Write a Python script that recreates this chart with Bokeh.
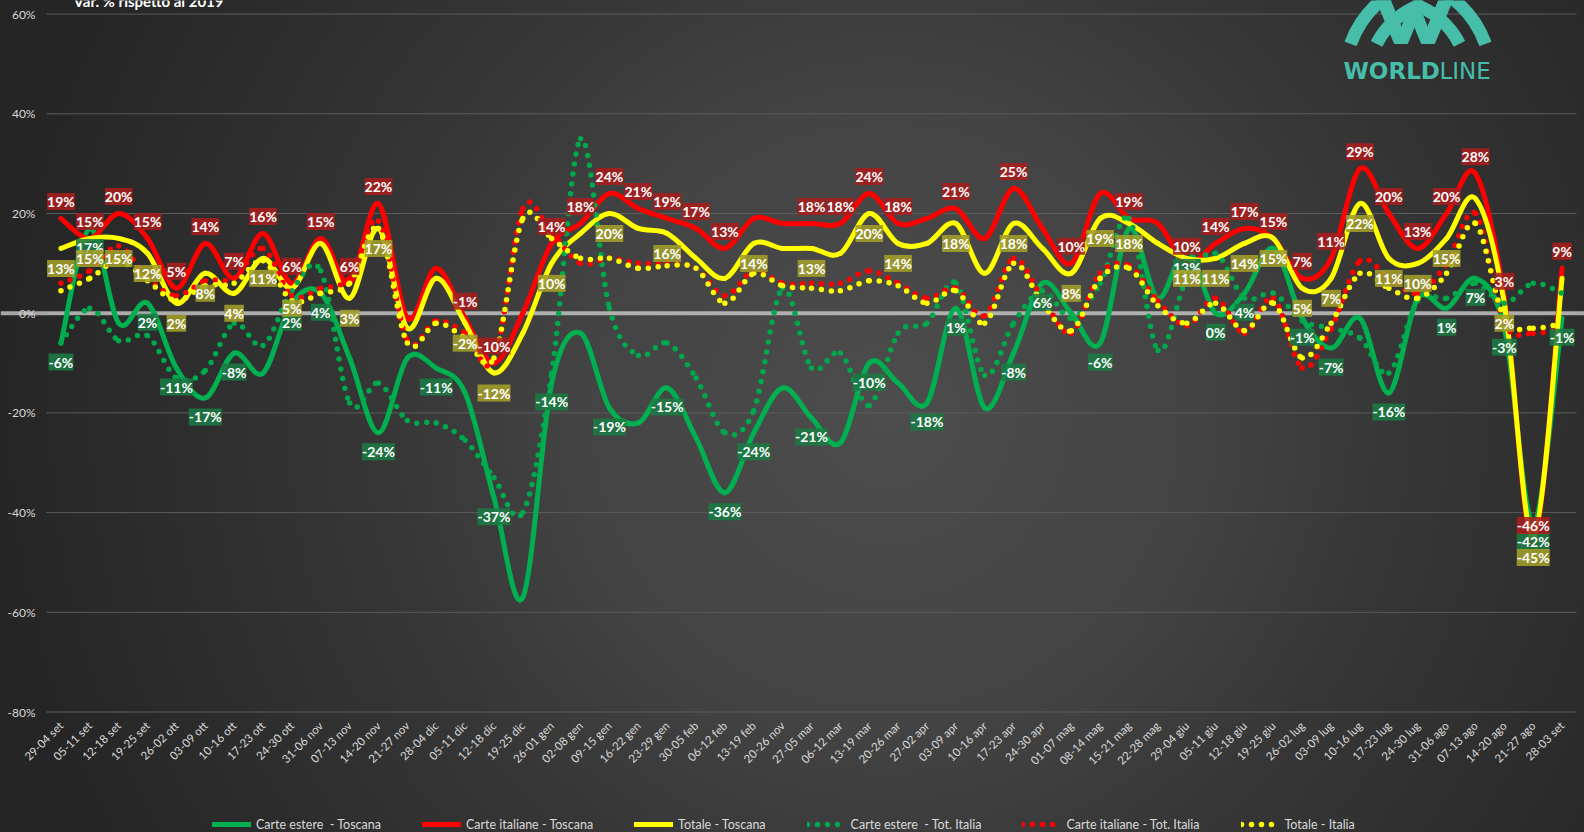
import math
from bokeh.plotting import figure
from bokeh.models import (Range1d, FixedTicker, ColumnDataSource, LabelSet, Label,
                          Span, Legend, LegendItem)
from bokeh.core.properties import value
from bokeh.embed import file_html
from bokeh.resources import INLINE

# ---------------- data ----------------
weeks = ["29-04 set", "05-11 set", "12-18 set", "19-25 set", "26-02 ott", "03-09 ott",
         "10-16 ott", "17-23 ott", "24-30 ott", "31-06 nov", "07-13 nov", "14-20 nov",
         "21-27 nov", "28-04 dic", "05-11 dic", "12-18 dic", "19-25 dic", "26-01 gen",
         "02-08 gen", "09-15 gen", "16-22 gen", "23-29 gen", "30-05 feb", "06-12 feb",
         "13-19 feb", "20-26 nov", "27-05 mar", "06-12 mar", "13-19 mar", "20-26 mar",
         "27-02 apr", "03-09 apr", "10-16 apr", "17-23 apr", "24-30 apr", "01-07 mag",
         "08-14 mag", "15-21 mag", "22-28 mag", "29-04 giu", "05-11 giu", "12-18 giu",
         "19-25 giu", "26-02 lug", "03-09 lug", "10-16 lug", "17-23 lug", "24-30 lug",
         "31-06 ago", "07-13 ago", "14-20 ago", "21-27 ago", "28-03 set"]

estere_toscana = [-6, 17, -2, 2, -11, -17, -8, -12, 2, 4, -9, -24, -9, -11, -16, -37, -57, -14,
                  -4, -19, -22, -15, -25, -36, -24, -15, -21, -26, -10, -14, -18, 1, -19, -8,
                  6, 0, -6, 17, 3, 13, 0, 4, 13, -1, -7, -1, -16, 3, 1, 7, -3, -42, -1]
italiane_toscana = [19, 15, 20, 15, 5, 14, 7, 16, 6, 15, 6, 22, -1, 9, -1, -10, 0, 14, 18, 24,
                    21, 19, 17, 13, 19, 18, 18, 18, 24, 18, 19, 21, 15, 25, 17, 10, 24, 19, 18,
                    10, 14, 17, 15, 7, 11, 29, 20, 13, 20, 28, 3, -46, 9]
totale_toscana = [13, 15, 15, 12, 2, 8, 4, 11, 5, 14, 3, 17, -3, 7, -2, -12, -4, 10, 16, 20,
                  17, 16, 11, 7, 14, 13, 13, 12, 20, 14, 14, 18, 8, 18, 13, 8, 19, 18, 14, 11,
                  11, 14, 15, 5, 7, 22, 11, 10, 15, 23, 2, -45, 7]
estere_italia = [-6, 1, -5.5, -4.5, -13, -11.5, -2, -6.5, 4.5, 8.5, -18, -14, -21.5, -22,
                 -25.5, -33, -40, -12, 35, 1, -8.5, -6, -13, -24, -19.5, 5, -11, -8, -18.5,
                 -4, -2, 6, -12.5, -2, 4.5, -1, 6, 19, -7.5, 7, 12, 3, 4, -1.5, -3, -5, -12,
                 2.5, 3, 6, 2, 6, 4]
italiane_italia = [6, 8.5, 13.5, 7, 3.5, 6.5, 7, 13, 3.5, 5, 7, 18.5, -5.5, -1.5, -4, -9.5,
                   21, 16, 10, 11, 10, 10, 9, 3.5, 8.5, 6, 6, 6, 8.5, 6, 3, 5, -0.5, 11, 3,
                   -4, 8, 9.5, 2.5, -2.5, 3, -4, 3, -11, -3, 10.5, 7, 4, 10, 20, -2, -4, -3]
totale_italia = [4.5, 7, 10.5, 6.5, 2.5, 5.5, 6, 10.5, 2.5, 4, 6, 17, -6, -2, -5, -9, 19, 15,
                 11, 11, 9, 9.5, 9, 2, 8, 5.5, 5, 4.5, 6.5, 5.5, 2, 4.5, -2, 10, 2, -3.5, 7,
                 9, 1.5, -2, 2, -3.5, 2, -9, -2, 8, 5, 3, 8, 18, -1, -3, -2]

# indices of the points that carry a data label
lbl_italiane_toscana = [0, 1, 2, 3, 4, 5, 6, 7, 8, 9, 10, 11, 14, 15, 17, 18, 19, 20, 21, 22,
                        23, 26, 27, 28, 29, 31, 33, 35, 37, 39, 40, 41, 42, 43, 44, 45, 46, 47,
                        48, 49, 50, 51, 52]
lbl_totale_toscana = [0, 1, 2, 3, 4, 5, 6, 7, 8, 10, 11, 14, 15, 17, 19, 21, 24, 26, 28, 29,
                      31, 33, 35, 36, 37, 39, 40, 41, 42, 43, 44, 45, 46, 47, 48, 50, 51]
lbl_estere_toscana = [0, 1, 3, 4, 5, 6, 8, 9, 11, 13, 15, 17, 19, 21, 23, 24, 26, 28, 30, 31,
                      33, 34, 36, 39, 40, 41, 43, 44, 46, 48, 49, 50, 51, 52]

y_ticks = [-80, -60, -40, -20, 0, 20, 40, 60]

# ---------------- figure (frame covers the whole canvas) ----------------
W, H = 1584, 832
N = len(weeks)
PLOT_L, PLOT_R = 46, 1576           # pixel extent of the category area
CW = (PLOT_R - PLOT_L) / N          # pixels per category
PX_PER_UNIT = 4.985                 # vertical pixels per percentage point
X0 = -0.5 - PLOT_L / CW
X1 = N - 0.5 + (W - PLOT_R) / CW
Y1 = 62.73
Y0 = Y1 - H / PX_PER_UNIT
AXIS_AT = -80.9                     # where the category axis sits

p = figure(width=W, height=H, output_backend="svg", toolbar_location=None,
           x_range=Range1d(X0, X1), y_range=Range1d(Y0, Y1),
           min_border_left=0, min_border_right=0, min_border_top=0,
           min_border_bottom=0)
p.background_fill_color = None
p.border_fill_color = None
p.outline_line_color = None
p.styles = {"background": "radial-gradient(circle 900px at 56% 50%, #4d4d4d 0%, "
                          "#434343 35%, #373737 55%, #2e2e2e 77%, #252525 100%)"}

FONT = "Lato"
p.yaxis.ticker = FixedTicker(ticks=y_ticks)
p.yaxis.major_label_overrides = {t: f"{t}%" for t in y_ticks}
p.yaxis.fixed_location = -0.5
p.xaxis.ticker = FixedTicker(ticks=list(range(N)))
p.xaxis.major_label_overrides = {i: w for i, w in enumerate(weeks)}
p.xaxis.major_label_orientation = math.pi / 4
p.xaxis.fixed_location = AXIS_AT
for ax in (p.xaxis, p.yaxis):
    ax.axis_line_color = None
    ax.major_tick_line_color = None
    ax.minor_tick_line_color = None
    ax.major_tick_out = 0
    ax.major_tick_in = 0
    ax.major_label_text_color = "#D9D9D9"
    ax.major_label_text_font = FONT
p.yaxis.major_label_text_font_size = "12px"
p.yaxis.major_label_standoff = 11
p.xaxis.major_label_text_font_size = "11.5px"
p.xaxis.major_label_standoff = 7
p.xgrid.visible = False
p.ygrid.visible = False

# horizontal gridlines limited to the category area
grid = p.segment(x0=[-0.5] * len(y_ticks), x1=[N - 0.5] * len(y_ticks),
                 y0=y_ticks, y1=y_ticks, line_color="#5c5c5c", line_width=1)
grid.level = "underlay"

p.add_layout(Span(location=0, dimension="width", line_color="#D0D0D0",
                  line_width=4, line_alpha=0.75, level="underlay"))


def bezier_source(vals):
    n = len(vals)
    d = dict(x0=[], y0=[], x1=[], y1=[], cx0=[], cy0=[], cx1=[], cy1=[])
    for i in range(n - 1):
        a, b = max(i - 1, 0), min(i + 2, n - 1)
        d["x0"].append(i)
        d["y0"].append(vals[i])
        d["x1"].append(i + 1)
        d["y1"].append(vals[i + 1])
        d["cx0"].append(i + (i + 1 - a) / 6)
        d["cy0"].append(vals[i] + (vals[i + 1] - vals[a]) / 6)
        d["cx1"].append(i + 1 - (b - i) / 6)
        d["cy1"].append(vals[i + 1] - (vals[b] - vals[i]) / 6)
    return ColumnDataSource(d)


GREEN, RED, YELLOW = "#00B050", "#FF0000", "#FFFF00"
series = [
    ("Carte estere  - Toscana", estere_toscana, GREEN, False),
    ("Carte italiane - Toscana", italiane_toscana, RED, False),
    ("Totale - Toscana", totale_toscana, YELLOW, False),
    ("Carte estere  - Tot. Italia", estere_italia, "#00A84C", True),
    ("Carte italiane - Tot. Italia", italiane_italia, RED, True),
    ("Totale - Italia", totale_italia, YELLOW, True),
]
items = []
for name, vals, col, dotted in series:
    kw = dict(line_color=col, line_cap="round")
    if dotted:
        kw.update(line_width=5.5, line_dash="0 10")
    else:
        kw.update(line_width=5, line_join="round")
    r = p.bezier(x0="x0", y0="y0", x1="x1", y1="y1", cx0="cx0", cy0="cy0",
                 cx1="cx1", cy1="cy1", source=bezier_source(vals), **kw)
    items.append(LegendItem(label=name, renderers=[r]))

# ---------------- data labels ----------------
has_pad = "padding" in LabelSet.properties()
for vals, idx, bg, off in [(estere_toscana, lbl_estere_toscana, "#1B7A43", -19),
                           (italiane_toscana, lbl_italiane_toscana, "#A81E1E", 17),
                           (totale_toscana, lbl_totale_toscana, "#A39E2A", -20)]:
    src = ColumnDataSource(dict(x=idx, y=[vals[i] for i in idx],
                                t=[f"{int(round(vals[i]))}%" for i in idx]))
    kw = dict(padding=3) if has_pad else {}
    p.add_layout(LabelSet(x="x", y="y", text="t", source=src, y_offset=off,
                          text_align="center", text_baseline="middle",
                          text_color="white", text_font=value(FONT),
                          text_font_style="bold", text_font_size="14px",
                          background_fill_color=bg, background_fill_alpha=0.88, **kw))

# ---------------- legend (inside the frame, along the bottom) ----------------
legend = Legend(items=items, orientation="horizontal", location=(212, 0),
                background_fill_alpha=0, border_line_color=None,
                label_text_color="#D9D9D9", label_text_font=FONT,
                label_text_font_size="12.5px", glyph_width=39, glyph_height=16,
                label_standoff=5, spacing=41, padding=2, margin=0)
p.add_layout(legend)


# helpers for decoration placement (pixel -> data)
def px_x(px):
    return X0 + px / CW


def px_y(py):
    return Y1 - py / PX_PER_UNIT


# title (cut at the top, as in the original)
p.add_layout(Label(x=px_x(73), y=px_y(0), text="Var. % rispetto al 2019",
                   text_color="white", text_font=FONT, text_font_style="bold",
                   text_font_size="15px", text_baseline="alphabetic"))

# Worldline logo: two fans of arcs and a central W, clipped at the logo baseline
TEAL = "#46BEAA"
LOGO_BOTTOM = 43
for cx, side in [(1446, "left"), (1389, "right")]:
    cy = 78
    for r_in, r_out in [(96, 108), (72, 84)]:
        cut = math.asin(min(1.0, (cy - LOGO_BOTTOM) / ((r_in + r_out) / 2)))
        if side == "left":
            a0, a1 = math.pi / 2 + 0.3, math.pi - cut
        else:
            a0, a1 = cut, math.pi / 2 - 0.3
        p.annular_wedge(x=px_x(cx), y=px_y(cy), inner_radius=r_in, outer_radius=r_out,
                        inner_radius_units="screen", outer_radius_units="screen",
                        start_angle=a0, end_angle=a1, color=TEAL)
w_px = [(1376, 0), (1390, 0), (1401, 27), (1408, 9), (1420, 9), (1427, 27), (1438, 0),
        (1452, 0), (1434, 43), (1421, 43), (1414, 26), (1407, 43), (1394, 43)]
p.patch([px_x(a) for a, _ in w_px], [px_y(b) for _, b in w_px], color=TEAL)
p.add_layout(Label(x=px_x(1343), y=px_y(70), text="WORLD", text_color=TEAL,
                   text_font="DejaVu Sans", text_font_style="bold", text_font_size="23px",
                   text_baseline="alphabetic"))
p.add_layout(Label(x=px_x(1439), y=px_y(70), text="LINE", text_color=TEAL,
                   text_font="'DejaVu Sans ExtraLight', 'DejaVu Sans'",
                   text_font_size="23px", text_baseline="alphabetic"))

open("out.html", "w").write(file_html(p, INLINE))
